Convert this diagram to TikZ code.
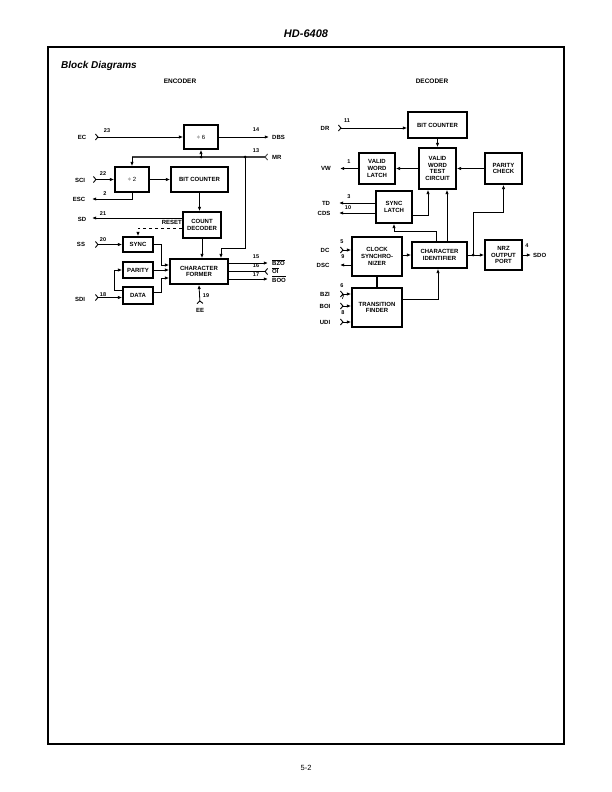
\documentclass[tikz,border=0pt]{standalone}
\usepackage{fontspec}
\setmainfont{Liberation Sans}
\usetikzlibrary{arrows.meta}
\begin{document}
\begin{tikzpicture}[x=1pt,y=-1pt,
  blk/.style={draw, line width=1.7pt, font=\fontsize{6}{6.8}\selectfont\bfseries, align=center, inner sep=0pt},
  lbl/.style={font=\fontsize{6}{6.8}\selectfont\bfseries, inner sep=0pt},
  pinno/.style={font=\fontsize{5.5}{6}\selectfont\bfseries, inner sep=0pt},
  conn/.style={line width=0.8pt},
  arr/.style={conn, -{Latex[length=4.2pt,width=3.4pt]}},
  inp/.style={conn, {Straight Barb[reversed,length=2.5pt,width=6pt,line width=0.9pt]}-{Latex[length=4.2pt,width=3.4pt]}},
  chevend/.style={conn, -{Straight Barb[reversed,length=2.5pt,width=6pt,line width=0.9pt]}},
  dot/.style={circle, fill, inner sep=0pt, minimum size=3pt}
]
\useasboundingbox (0,0) rectangle (612,792);
% headings
\node[font=\fontsize{11}{13}\selectfont\bfseries\itshape, inner sep=0pt] (title) at (306,34) {HD-6408};
\draw[line width=1.8pt] (48,47) rectangle (564,744);
\node[font=\fontsize{10}{12}\selectfont\bfseries\itshape, inner sep=0pt, anchor=west] (bd) at (61,66) {Block Diagrams};
\node[font=\fontsize{6.5}{8}\selectfont\bfseries, inner sep=0pt] (enc) at (180,81) {ENCODER};
\node[font=\fontsize{6.5}{8}\selectfont\bfseries, inner sep=0pt] (dec) at (432,81) {DECODER};
\node[font=\fontsize{7.5}{9}\selectfont, inner sep=0pt] (pg) at (306,768) {5-2};

% ================= ENCODER =================
\node[blk, minimum width=34pt, minimum height=24pt, font=\fontsize{6}{6.8}\selectfont] (div6) at (201,137) {÷ 6};
\node[blk, minimum width=34pt, minimum height=25pt, font=\fontsize{6}{6.8}\selectfont] (div2) at (132,179.5) {÷ 2};
\node[blk, minimum width=57pt, minimum height=25pt] (ebc) at (199.5,179.5) {BIT COUNTER};
\node[blk, minimum width=38pt, minimum height=26pt] (cdec) at (202,225) {COUNT\\DECODER};
\node[blk, minimum width=30pt, minimum height=15pt] (sync) at (138,244.5) {SYNC};
\node[blk, minimum width=30pt, minimum height=16pt] (par) at (138,270) {PARITY};
\node[blk, minimum width=30pt, minimum height=17pt] (data) at (138,295.5) {DATA};
\node[blk, minimum width=58pt, minimum height=25pt] (cf) at (199,271.5) {CHARACTER\\FORMER};

% EC
\node[lbl] (ecl) at (82,137) {EC};
\node[pinno] (p23) at (107,130.5) {23};
\coordinate (ecin) at (95,137);
\draw[inp] (ecin) -- (div6.west);
% DBS
\coordinate (dbs) at (269,137);
\node[lbl, anchor=west] (dbsl) at (272,137) {DBS};
\node[pinno] (p14) at (256,130) {14};
\draw[arr] (div6.east) -- (dbs);
% MR bus
\coordinate (mrL) at (132,157);
\coordinate (mr) at (268,157);
\coordinate (mrj) at (245,157);
\node[lbl, anchor=west] (mrl) at (272,157) {MR};
\node[pinno] (p13) at (256,150.5) {13};
\draw[line width=1.4pt, black!75, -{Straight Barb[reversed,length=2.5pt,width=6pt,line width=0.9pt]}] (mrL) -- (mr);
\draw[arr] (mrL) -- (div2.north);
\draw[arr] (div6.south |- mrL) -- (div6.south);
\node[dot] (d1) at (div6.south |- mrL) {};
\node[dot] (d2) at (mrj) {};
\draw[arr] (mrj) -- ++(0,91) -| ([xshift=22pt]cf.north);
% SCI
\node[lbl] (scil) at (80,180) {SCI};
\node[pinno] (p22) at (103,174) {22};
\coordinate (sciin) at (93,179.5);
\draw[inp] (sciin) -- (div2.west);
% ESC
\coordinate (esc) at (92,199);
\node[lbl] (escl) at (79,199) {ESC};
\node[pinno] (p2) at (105,194) {2};
\draw[arr] (div2.south) |- (esc);
\draw[arr] (div2.east) -- (ebc.west);
\draw[arr] (ebc.south) -- (ebc.south |- cdec.north);
% SD
\coordinate (sd) at (92,218);
\node[lbl] (sdl) at (82,219) {SD};
\node[pinno] (p21) at (103,214) {21};
\draw[arr] ([yshift=7pt]cdec.west) -- (sd);
% RESET
\node[lbl, anchor=east] (rst) at (182,222.5) {RESET};
\draw[conn, dashed, -{Latex[length=4.2pt,width=3.4pt]}] ([yshift=-3pt]cdec.west) -| (sync.north);
\draw[arr] (cdec.south) -- (cdec.south |- cf.north);
% SS
\node[lbl] (ssl) at (81,244) {SS};
\node[pinno] (p20) at (103,240) {20};
\coordinate (ssin) at (95,244.5);
\draw[inp] (ssin) -- (sync.west);
% to character former
\draw[arr] (sync.east) -- ++(8,0) |- ([yshift=6.5pt]cf.west);
\draw[arr] (par.east) -- (par.east -| cf.west);
\draw[arr] ([yshift=3pt]data.east) -- ++(8,0) |- ([yshift=-6.5pt]cf.west);
% SDI
\node[lbl] (sdil) at (80,299) {SDI};
\node[pinno] (p18) at (103,295) {18};
\coordinate (sdiin) at (95,297.5);
\draw[inp] (sdiin) -- (sdiin -| data.west);
\draw[arr] ([yshift=5.5pt]data.west) -- ++(-8,0) |- (par.west);
% outputs
\coordinate (bzo) at (268,263);
\coordinate (oi) at (268,271.5);
\coordinate (boo) at (268,279);
\draw[arr] ([yshift=8.5pt]cf.east) -- (bzo);
\draw[chevend] (cf.east) -- (oi);
\draw[arr] ([yshift=-7.5pt]cf.east) -- (boo);
\node[lbl, anchor=west] (bzol) at (272,262.5) {$\overline{\hbox{BZO}}$};
\node[lbl, anchor=west] (oil) at (272,270.5) {$\overline{\hbox{OI}}$};
\node[lbl, anchor=west] (bool) at (272,279) {$\overline{\hbox{BOO}}$};
\node[pinno] (p15) at (256,257) {15};
\node[pinno] (p16) at (256,266) {16};
\node[pinno] (p17) at (256,275) {17};
% EE
\coordinate (eein) at (200,304);
\node[lbl] (eel) at (200,310) {EE};
\node[pinno] (p19) at (206,296) {19};
\draw[inp] (eein) -- (cf.south);

% ================= DECODER =================
\node[blk, minimum width=59pt, minimum height=26pt] (dbc) at (437.5,125) {BIT COUNTER};
\node[blk, minimum width=37pt, minimum height=41pt] (vwtc) at (437.5,168.5) {VALID\\WORD\\TEST\\CIRCUIT};
\node[blk, minimum width=36pt, minimum height=31pt] (vwl) at (377,168.5) {VALID\\WORD\\LATCH};
\node[blk, minimum width=37pt, minimum height=31pt] (pc) at (503.5,168.5) {PARITY\\CHECK};
\node[blk, minimum width=36pt, minimum height=32pt] (sl) at (394,207) {SYNC\\LATCH};
\node[blk, minimum width=50pt, minimum height=39pt] (cs) at (377,256.5) {CLOCK\\SYNCHRO-\\NIZER};
\node[blk, minimum width=55pt, minimum height=26pt] (ci) at (439.5,255) {CHARACTER\\IDENTIFIER};
\node[blk, minimum width=37pt, minimum height=30pt] (nrz) at (503.5,255) {NRZ\\OUTPUT\\PORT};
\node[blk, minimum width=50pt, minimum height=39pt] (tf) at (377,307.5) {TRANSITION\\FINDER};

% DR
\node[lbl] (drl) at (325,128) {DR};
\node[pinno] (p11) at (347,121) {11};
\coordinate (drin) at (338,128);
\draw[inp] (drin) -- (drin -| dbc.west);
\draw[arr] (dbc.south) -- (vwtc.north);
\draw[arr] (vwtc.west) -- (vwl.east);
% VW
\coordinate (vw) at (340,168.5);
\node[lbl] (vwl2) at (326,168.5) {VW};
\node[pinno] (p1) at (349,162) {1};
\draw[arr] (vwl.west) -- (vw);
\draw[arr] (pc.west) -- (vwtc.east);
% TD / CDS
\coordinate (td) at (339,203);
\coordinate (cds) at (339,213);
\node[lbl] (tdl) at (326,203) {TD};
\node[lbl] (cdsl) at (324,213) {CDS};
\node[pinno] (p3) at (349,197) {3};
\node[pinno] (p10) at (348,208) {10};
\draw[arr] ([yshift=4pt]sl.west) -- (td);
\draw[arr] ([yshift=-6pt]sl.west) -- (cds);
\draw[arr] ([yshift=-8pt]sl.east) -| ([xshift=-9.5pt]vwtc.south);
\draw[arr] ([xshift=7.5pt]ci.north) -- ([xshift=7.5pt]ci.north |- vwtc.south);
\draw[arr] ([xshift=-3.5pt]ci.north) -- ++(0,-10) -| (sl.south);
\draw[arr] (cs.east |- ci.west) -- (ci.west);
\draw[arr] ([yshift=8.5pt]tf.east) -| ([xshift=-1.5pt]ci.south);
\draw[line width=1.8pt] (cs.south) -- (tf.north);
% to NRZ
\coordinate (nj) at (473,255);
\draw[arr] (ci.east) -- (nrz.west);
\node[dot] (d3) at (nj) {};
\draw[arr] (nj) -- ++(0,-43) -| (pc.south);
% SDO
\coordinate (sdo) at (531,255);
\node[lbl, anchor=west] (sdol) at (533,255) {SDO};
\node[pinno] (p4) at (527,246) {4};
\draw[arr] (nrz.east) -- (sdo);
% DC / DSC
\node[lbl] (dcl) at (325,250) {DC};
\node[pinno] (p5) at (342,242) {5};
\coordinate (dcin) at (340,250);
\draw[inp] (dcin) -- (dcin -| cs.west);
\coordinate (dsc) at (340,265);
\node[lbl] (dscl) at (323,265) {DSC};
\node[pinno] (p9) at (343,257) {9};
\draw[arr] (dsc -| cs.west) -- (dsc);
% BZI / BOI / UDI
\node[lbl] (bzil) at (325,294) {BZI};
\node[lbl] (boil) at (325,306) {BOI};
\node[lbl] (udil) at (325,322) {UDI};
\node[pinno] (p6) at (342,286) {6};
\node[pinno] (p7) at (343,298) {7};
\node[pinno] (p8) at (343,313) {8};
\coordinate (bziin) at (340,294);
\coordinate (boiin) at (340,306);
\coordinate (udiin) at (340,322);
\draw[inp] (bziin) -- (bziin -| tf.west);
\draw[inp] (boiin) -- (boiin -| tf.west);
\draw[inp] (udiin) -- (udiin -| tf.west);
\end{tikzpicture}
\end{document}
